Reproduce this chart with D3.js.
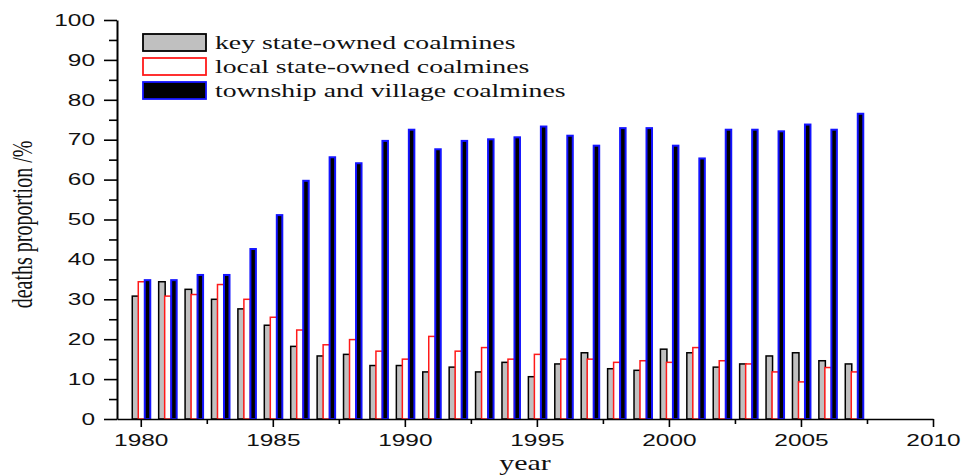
<!DOCTYPE html>
<html>
<head>
<meta charset="utf-8">
<script src="https://cdn.jsdelivr.net/npm/d3@7"></script>
<style>
  html, body { margin: 0; padding: 0; background: #fff; }
  svg { display: block; }
</style>
</head>
<body>
<svg id="chart" width="962" height="475"></svg>
<script>
// ---------- data ----------
const years = [1980, 1981, 1982, 1983, 1984, 1985, 1986, 1987, 1988, 1989,
               1990, 1991, 1992, 1993, 1994, 1995, 1996, 1997, 1998, 1999,
               2000, 2001, 2002, 2003, 2004, 2005, 2006, 2007];
const keyStateOwned = [30.8, 34.4, 32.5, 30.0, 27.6, 23.5, 18.2, 15.8, 16.2, 13.4,
                       13.4, 11.8, 13.0, 11.8, 14.2, 10.6, 13.8, 16.6, 12.6, 12.2,
                       17.5, 16.6, 13.0, 13.8, 15.8, 16.6, 14.6, 13.8];
const localStateOwned = [34.4, 30.8, 31.2, 33.7, 30.0, 25.5, 22.3, 18.6, 19.9, 17.0,
                         15.0, 20.7, 17.0, 17.9, 15.0, 16.2, 15.0, 15.0, 14.2, 14.6,
                         14.2, 17.9, 14.6, 13.8, 11.8, 9.3, 12.9, 11.8];
const townshipVillage = [34.8, 34.8, 36.1, 36.1, 42.6, 51.1, 59.7, 65.6, 64.1, 69.7,
                         72.5, 67.6, 69.7, 70.1, 70.6, 73.3, 71.0, 68.5, 72.9, 72.9,
                         68.5, 65.3, 72.5, 72.5, 72.1, 73.8, 72.5, 76.5];
const seriesNames = ["key state-owned coalmines", "local state-owned coalmines", "township and village coalmines"];
const xTickValues = [1980, 1985, 1990, 1995, 2000, 2005, 2010];
const xMinorTicks = [1982.5, 1987.5, 1992.5, 1997.5, 2002.5, 2007.5];
const yTickValues = [0, 10, 20, 30, 40, 50, 60, 70, 80, 90, 100];
const yMinorTicks = [5, 15, 25, 35, 45, 55, 65, 75, 85, 95];
const yTitle = "deaths proportion /%";
const xTitle = "year";

// ---------- styles ----------
const fills = ["#c0c0c0", "#ffffff", "#000000"];
const strokes = ["#000000", "#ff1a1a", "#1414ff"];
const SX = 1.5; // horizontal stretch of the original figure

const svg = d3.select("#chart");
const mLeft = 117, mRight = 933, mTop = 20, mBottom = 419;

const x = d3.scaleLinear().domain([1979.1, 2010]).range([mLeft, mRight]);
const y = d3.scaleLinear().domain([0, 100]).range([mBottom, mTop]);
const sub = d3.scaleBand().domain(seriesNames).range([-8.5, 9.5]);

const seriesData = [keyStateOwned, localStateOwned, townshipVillage];

// ---------- bars ----------
seriesData.forEach((vals, si) => {
  svg.append("g")
    .selectAll("rect")
    .data(years.map((yr, i) => ({ yr, v: vals[i] })))
    .join("rect")
    .attr("x", d => x(d.yr) + sub(seriesNames[si]) + (si === 2 ? 0.5 : 0))
    .attr("width", si === 2 ? sub.bandwidth() - 0.5 : sub.bandwidth() + 0.5)
    .attr("y", d => y(d.v))
    .attr("height", d => y(0) - y(d.v))
    .attr("fill", fills[si])
    .attr("stroke", strokes[si])
    .attr("stroke-width", si === 2 ? 2 : 1.5);
});

// ---------- axes ----------
const fontSans = "'Liberation Sans', Arial, sans-serif";
const fontSerif = "'Liberation Serif', 'Times New Roman', serif";

const xAxis = svg.append("g").attr("transform", `translate(0,${mBottom})`)
  .call(d3.axisBottom(x).tickValues(xTickValues).tickSize(8).tickSizeOuter(0).tickPadding(3).tickFormat(d3.format("d")));
svg.append("g").attr("transform", `translate(0,${mBottom})`)
  .call(d3.axisBottom(x).tickValues(xMinorTicks).tickSize(5).tickSizeOuter(0).tickFormat(""))
  .select(".domain").remove();

xAxis.selectAll("text")
  .attr("font-family", fontSans).attr("font-size", 16.3).attr("fill", "#111")
  .attr("transform", `scale(${SX},1)`).attr("y", 15).attr("dy", "0.71em");

const yAxis = svg.append("g").attr("transform", `translate(${mLeft},0)`)
  .call(d3.axisLeft(y).tickValues(yTickValues).tickSize(13).tickSizeOuter(0).tickFormat(d3.format("d")));
svg.append("g").attr("transform", `translate(${mLeft},0)`)
  .call(d3.axisLeft(y).tickValues(yMinorTicks).tickSize(8).tickSizeOuter(0).tickFormat(""))
  .select(".domain").remove();

yAxis.selectAll("text")
  .attr("font-family", fontSans).attr("font-size", 16.3).attr("fill", "#111")
  .attr("transform", `scale(${SX},1)`).attr("x", -22 / SX);

svg.selectAll(".domain").attr("stroke", "#000").attr("stroke-width", 1.6);
svg.selectAll(".tick line").attr("stroke", "#000").attr("stroke-width", 1.6);
yAxis.select(".domain").attr("stroke-width", 2);

// ---------- titles ----------
svg.append("text")
  .attr("transform", `translate(32,${(mTop + mBottom) / 2 + 5}) scale(${SX},1) rotate(-90)`)
  .attr("text-anchor", "middle")
  .attr("font-family", fontSerif).attr("font-size", 20).attr("fill", "#111")
  .text(yTitle);

svg.append("text")
  .attr("transform", `translate(${(mLeft + mRight) / 2},470) scale(${SX},1)`)
  .attr("text-anchor", "middle")
  .attr("font-family", fontSerif).attr("font-size", 20).attr("fill", "#111")
  .text(xTitle);

// ---------- legend ----------
const legend = svg.append("g").attr("transform", "translate(143,34)");
seriesNames.forEach((name, i) => {
  const g = legend.append("g").attr("transform", `translate(0,${i * 24})`);
  g.append("rect")
    .attr("x", 0).attr("y", 0).attr("width", 63).attr("height", 17)
    .attr("fill", fills[i]).attr("stroke", strokes[i]).attr("stroke-width", 1.8);
  g.append("text")
    .attr("transform", `translate(72,15) scale(${SX},1)`)
    .attr("font-family", fontSerif).attr("font-size", 18.5).attr("fill", "#111")
    .text(name);
});
</script>
</body>
</html>
